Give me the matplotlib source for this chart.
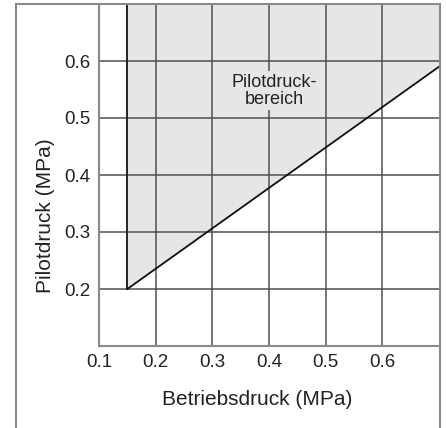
import matplotlib.pyplot as plt
from matplotlib.lines import Line2D

# Farben
GRAU_FLAECHE = "#e6e6e6"
GRAU_RAHMEN = "#8a8a8a"
GRAU_GITTER = "#505050"

plt.rcParams.update({
    "font.family": ["Liberation Sans", "DejaVu Sans"],
})

# Daten: Grenze des Pilotdruckbereichs
grenze_x = [0.15, 0.70]
grenze_y = [0.20, 0.59]
min_betrieb = 0.15
obere_grenze = 0.70

x_ticks = [0.1, 0.2, 0.3, 0.4, 0.5, 0.6]
y_ticks = [0.2, 0.3, 0.4, 0.5, 0.6]
gitter_x = [0.2, 0.3, 0.4, 0.5, 0.6]
gitter_y = [0.2, 0.3, 0.4, 0.5, 0.6]

fig = plt.figure(figsize=(4.46, 4.28), dpi=100)
ax = fig.add_axes([99 / 446, 82 / 428, 340 / 446, 342 / 428])

# Schattierter Bereich oberhalb der Grenzlinie
ax.fill_between(grenze_x, grenze_y, obere_grenze, color=GRAU_FLAECHE,
                linewidth=0, zorder=1)

# Gitter
for gx in gitter_x:
    ax.axvline(gx, color=GRAU_GITTER, linewidth=1.1, zorder=2)
for gy in gitter_y:
    ax.axhline(gy, color=GRAU_GITTER, linewidth=1.1, zorder=2)

# Grenzlinien
ax.plot([min_betrieb, min_betrieb], [grenze_y[0], obere_grenze],
        color="#222222", linewidth=1.4, zorder=3)
ax.plot(grenze_x, grenze_y, color="#111111", linewidth=1.3, zorder=3)

ax.text(0.41, 0.548, "Pilotdruck-\nbereich", ha="center", va="center",
        fontsize=13, color="#222222", linespacing=1.0, zorder=4,
        bbox=dict(facecolor=GRAU_FLAECHE, edgecolor="none", pad=2))

ax.set_xlim(0.1, 0.7)
ax.set_ylim(0.1, 0.7)
ax.set_xticks(x_ticks)
ax.set_yticks(y_ticks)
ax.set_xticklabels([f"{v:.1f}" for v in x_ticks])
ax.set_yticklabels([f"{v:.1f}" for v in y_ticks])
ax.tick_params(length=0, labelsize=13.5, colors="#222222", pad=6)

for s in ["top", "right"]:
    ax.spines[s].set_visible(False)
for s in ["left", "bottom"]:
    ax.spines[s].set_color(GRAU_RAHMEN)
    ax.spines[s].set_linewidth(1.5)

ax.set_xlabel("Betriebsdruck (MPa)", fontsize=15, color="#222222", labelpad=12)
ax.set_ylabel("Pilotdruck (MPa)", fontsize=15, color="#222222", labelpad=7)
ax.xaxis.set_label_coords(0.465, -0.13)
ax.yaxis.label.set_y(0.38)

# Rahmen um die Grafik
fig.add_artist(Line2D([16 / 446, 16 / 446], [0, 424 / 428],
                      color=GRAU_RAHMEN, linewidth=1.5))
fig.add_artist(Line2D([16 / 446, 440 / 446], [424 / 428, 424 / 428],
                      color=GRAU_RAHMEN, linewidth=1.5))
fig.add_artist(Line2D([440 / 446, 440 / 446], [0, 424 / 428],
                      color=GRAU_RAHMEN, linewidth=1.5))

fig.savefig("out.png", dpi=100)
